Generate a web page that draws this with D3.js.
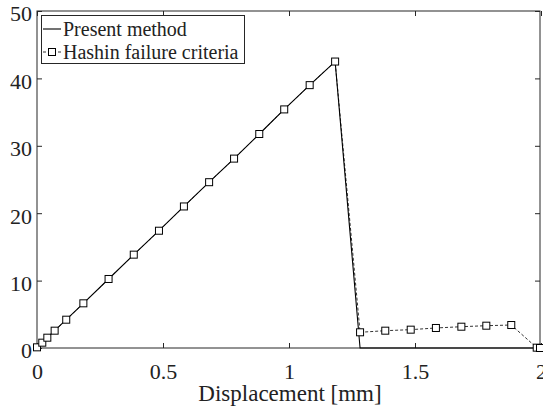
<!DOCTYPE html>
<html><head><meta charset="utf-8">
<script src="https://cdn.jsdelivr.net/npm/d3@7"></script>
<style>body{margin:0;background:#fff;} svg{display:block;} text{font-family:"Liberation Serif","Times New Roman",serif;fill:#222;}</style>
</head><body><svg id="c" width="543" height="412"></svg>
<script>
// Data
const presentX = [0, 0.021, 0.041, 0.07, 0.116, 0.184, 0.284, 0.384, 0.484, 0.583, 0.683, 0.782, 0.882, 0.981, 1.082, 1.183, 1.282, 2.0];
const presentY = [0, 0.79, 1.53, 2.57, 4.2, 6.63, 10.24, 13.85, 17.4, 21.0, 24.6, 28.1, 31.75, 35.4, 39.0, 42.5, 0, 0];
const hashinX = [0, 0.021, 0.041, 0.07, 0.116, 0.184, 0.284, 0.384, 0.484, 0.583, 0.683, 0.782, 0.882, 0.981, 1.082, 1.183, 1.282, 1.382, 1.483, 1.583, 1.684, 1.783, 1.882, 1.983, 1.996];
const hashinY = [0.1, 0.79, 1.53, 2.57, 4.2, 6.63, 10.24, 13.85, 17.4, 21.0, 24.6, 28.1, 31.75, 35.4, 39.0, 42.5, 2.33, 2.57, 2.72, 2.97, 3.16, 3.31, 3.41, 0.05, 0];
const xTicks = [0, 0.5, 1, 1.5, 2];
const xTickLabels = ["0", "0.5", "1", "1.5", "2"];
const yTicks = [0, 10, 20, 30, 40, 50];
const yTickLabels = ["0", "10", "20", "30", "40", "50"];
const seriesNames = ["Present method", "Hashin failure criteria"];
const xLabel = "Displacement [mm]";

const svg = d3.select("#c");
const L = 37, R = 541, T = 11, B = 348;
const x = d3.scaleLinear().domain([0, 2]).range([L, R]);
const y = d3.scaleLinear().domain([0, 50]).range([B, T]);

// frame
svg.append("rect").attr("x", L).attr("y", T).attr("width", R - L - 1).attr("height", B - T)
  .attr("fill", "none").attr("stroke", "#262626").attr("stroke-width", 1);

const fs = 22;
// ticks
const xb = svg.append("g").attr("transform", `translate(0,${B})`)
  .call(d3.axisBottom(x).tickValues(xTicks).tickSize(-5).tickFormat((d, i) => xTickLabels[i]).tickPadding(15));
const xt = svg.append("g").attr("transform", `translate(0,${T})`)
  .call(d3.axisTop(x).tickValues(xTicks).tickSize(-5).tickFormat(""));
const yl = svg.append("g").attr("transform", `translate(${L},0)`)
  .call(d3.axisLeft(y).tickValues(yTicks).tickSize(-5).tickFormat((d, i) => yTickLabels[i]).tickPadding(5));
const yr = svg.append("g").attr("transform", `translate(${R - 1},0)`)
  .call(d3.axisRight(y).tickValues(yTicks).tickSize(-5).tickFormat(""));
[xb, xt, yl, yr].forEach(g => {
  g.select(".domain").remove();
  g.selectAll(".tick line").attr("stroke", "#262626");
  g.selectAll("text").attr("font-size", fs).attr("fill", "#222").attr("font-family", "Liberation Serif");
});
xb.selectAll("text").attr("dy", "0.71em");
yl.selectAll("text").attr("dy", "0.45em");

// x label
svg.append("text").attr("x", (L + R) / 2 + 1).attr("y", 401).attr("text-anchor", "middle")
  .attr("font-size", 23).text(xLabel);

const present = presentX.map((d, i) => [d, presentY[i]]);
const hashin = hashinX.map((d, i) => [d, hashinY[i]]);
const line = d3.line().x(d => x(d[0])).y(d => y(d[1]));

svg.append("path").attr("d", line(hashin)).attr("fill", "none").attr("stroke", "#000")
  .attr("stroke-width", 0.8).attr("stroke-dasharray", "3,2");
svg.append("path").attr("d", line(present)).attr("fill", "none").attr("stroke", "#000").attr("stroke-width", 1.1);

const ms = 7;
svg.selectAll("rect.m").data(hashin).enter().append("rect").attr("class", "m")
  .attr("x", d => x(d[0]) - ms / 2).attr("y", d => y(d[1]) - ms / 2)
  .attr("width", ms).attr("height", ms).attr("fill", "#fff").attr("stroke", "#000").attr("stroke-width", 1);

// legend
const lg = svg.append("g");
lg.append("rect").attr("x", 41.5).attr("y", 15.5).attr("width", 203).attr("height", 48)
  .attr("fill", "#fff").attr("stroke", "#262626").attr("stroke-width", 1);
lg.append("line").attr("x1", 43).attr("x2", 61).attr("y1", 29).attr("y2", 29).attr("stroke", "#000").attr("stroke-width", 1.1);
lg.append("line").attr("x1", 43).attr("x2", 61).attr("y1", 52).attr("y2", 52).attr("stroke", "#000").attr("stroke-width", 0.8).attr("stroke-dasharray", "3,2");
lg.append("rect").attr("x", 52 - ms / 2).attr("y", 52 - ms / 2).attr("width", ms).attr("height", ms)
  .attr("fill", "#fff").attr("stroke", "#000");
lg.append("text").attr("x", 63).attr("y", 36).attr("font-size", 20).text(seriesNames[0]);
lg.append("text").attr("x", 63).attr("y", 59).attr("font-size", 20).text(seriesNames[1]);
</script></body></html>
